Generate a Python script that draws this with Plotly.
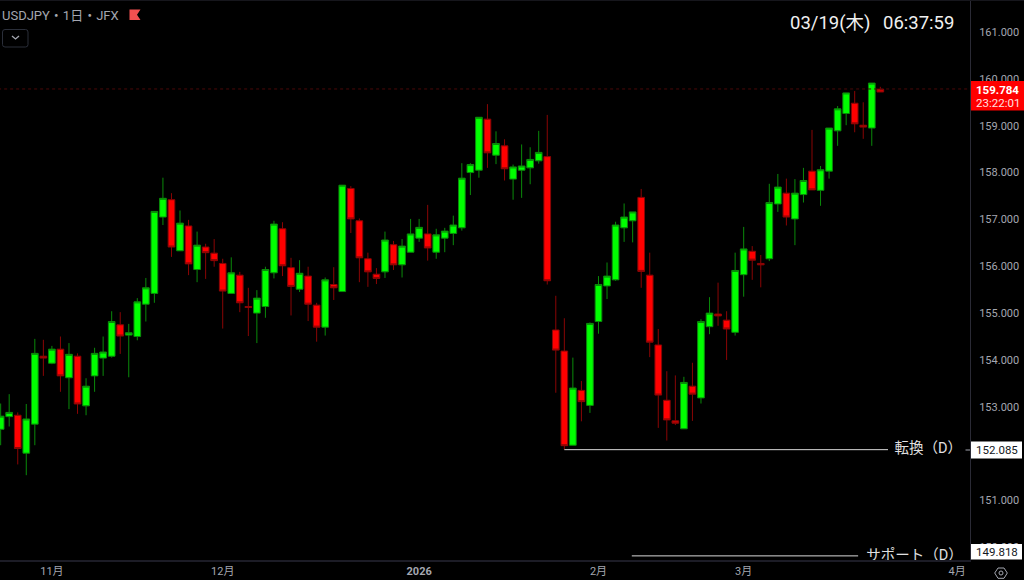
import plotly.graph_objects as go

opens = [
    152.52,152.79,152.82,152.01,152.63,154.08,153.93,154.23,153.62,154.08,
    153.02,153.66,154.04,154.08,154.75,154.53,154.50,155.19,155.42,157.05,
    157.42,156.33,156.86,155.93,156.41,156.28,156.06,155.42,155.81,155.14,
    155.00,155.14,155.86,156.80,155.97,155.51,155.79,155.17,154.70,155.61,
    155.46,157.66,156.97,156.16,155.83,155.88,156.46,156.03,156.30,156.60,
    156.69,156.30,156.60,156.70,156.82,158.00,158.05,159.14,158.37,158.57,
    157.86,158.05,158.10,158.25,158.34,154.64,154.19,152.18,153.35,153.03,
    154.82,155.58,155.71,156.82,156.97,157.47,155.81,154.32,153.14,152.70,
    152.53,153.44,153.19,154.71,154.98,154.85,154.59,155.82,156.32,156.06,
    156.16,157.33,157.56,157.01,157.53,158.03,157.62,158.03,158.89,159.26,
    159.48,159.01,158.95,159.78,
]
highs = [
    153.07,153.27,152.88,153.06,154.45,154.43,154.30,154.50,154.36,154.14,
    153.61,154.26,154.50,155.04,155.02,154.77,155.32,155.75,157.17,157.89,
    157.56,157.19,156.99,156.74,156.48,156.58,156.16,156.19,155.88,155.54,
    155.49,155.99,156.97,156.94,156.18,156.13,155.99,155.22,155.76,155.98,
    157.73,157.71,157.02,156.29,155.96,156.74,156.54,156.58,157.01,157.01,
    157.31,156.80,156.82,157.08,158.20,158.20,159.18,159.46,158.88,158.71,
    158.17,158.60,158.54,158.89,159.23,155.37,154.89,154.05,153.55,154.80,
    155.79,156.08,156.95,157.34,157.16,157.65,156.29,154.66,153.76,153.67,
    153.64,153.94,154.87,155.34,155.65,155.04,156.29,156.84,156.43,156.24,
    157.76,157.97,157.87,157.86,158.10,158.91,158.14,158.95,159.42,159.70,
    159.74,159.50,159.91,159.83,
]
lows = [
    152.18,152.58,151.77,151.54,152.18,153.66,153.91,153.32,152.95,152.85,
    152.82,153.32,153.66,154.05,154.13,153.63,154.42,154.82,155.22,156.88,
    156.20,156.33,155.81,155.66,155.73,155.99,154.67,155.42,155.02,154.51,
    154.36,154.90,155.74,155.79,154.95,155.45,154.83,154.39,154.52,155.28,
    155.46,156.71,155.66,155.56,155.62,155.75,155.92,155.76,156.30,156.52,
    156.12,156.16,156.30,156.45,156.76,157.52,157.89,158.10,158.18,157.83,
    157.42,157.46,157.75,158.19,155.61,153.30,152.09,152.18,152.69,152.87,
    154.56,155.30,155.69,156.52,156.51,155.54,154.06,152.55,152.28,152.61,
    152.53,152.70,153.07,154.55,154.73,154.00,154.52,155.35,155.71,155.55,
    156.11,157.16,156.87,156.45,157.36,157.63,157.29,157.87,158.57,159.01,
    158.86,158.72,158.57,159.72,
]
closes = [
    152.80,152.88,152.11,152.74,154.14,154.04,154.23,153.66,154.12,153.06,
    153.44,154.14,154.17,154.82,154.51,154.58,155.24,155.54,157.17,157.45,
    156.41,156.92,156.05,156.45,156.29,156.12,155.47,155.86,155.22,155.12,
    155.32,155.93,156.90,156.01,155.57,155.85,155.19,154.70,155.71,155.54,
    157.73,157.01,156.18,155.88,155.74,156.56,156.03,156.43,156.69,156.83,
    156.39,156.67,156.75,156.88,157.88,158.17,159.18,158.42,158.62,158.08,
    158.12,158.14,158.28,158.43,155.69,154.21,152.17,153.40,153.11,154.78,
    155.61,155.79,156.88,157.05,157.16,155.89,154.38,153.25,152.72,152.65,
    153.52,153.27,154.82,155.00,154.94,154.66,155.91,156.37,156.13,156.03,
    157.36,157.69,157.05,157.56,157.83,157.63,158.06,158.95,159.36,159.70,
    159.04,158.97,159.91,159.72,
]
bar_index = list(range(len(opens)))

month_ticks = [6, 26, 49, 70, 87, 112]
month_labels = ["11月", "12月", "<b>2026</b>", "2月", "3月", "4月"]
price_ticks = [150, 151, 153, 154, 155, 156, 157, 158, 159, 160, 161]

last_price = 159.784
reversal_price = 152.085
support_price = 149.818
reversal_span = [66, 103.9]
support_span = [73.9, 100.4]
level_labels = ["転換（D）", "サポート（D）"]
level_label_x = [108.6, 107.0]

PLOT_W, PLOT_H = 970, 560
GRAY = "#a4a7b0"
FONT = "Roboto, 'Noto Sans CJK JP', sans-serif"


def px_shape(kind, x0, y0, x1, y1, fill, line="rgba(0,0,0,0)"):
    return dict(type=kind, xref="paper", yref="paper", x0=x0 / PLOT_W, x1=x1 / PLOT_W,
                y0=1 - y0 / PLOT_H, y1=1 - y1 / PLOT_H, fillcolor=fill, line=dict(color=line, width=1))


def px_path(path, fill="rgba(0,0,0,0)", line="rgba(0,0,0,0)", width=1):
    # pixel path measured from the top left of the page, y pointing up
    return dict(type="path", xref="paper", yref="paper", xsizemode="pixel", ysizemode="pixel",
                xanchor=0, yanchor=1, path=path, fillcolor=fill, line=dict(color=line, width=width))


def px_text(x, y, text, size, color=GRAY, anchor="left"):
    return dict(xref="paper", yref="paper", x=x / PLOT_W, y=1 - y / PLOT_H, text=text, showarrow=False,
                xanchor=anchor, yanchor="middle", font=dict(family=FONT, size=size, color=color),
                borderpad=0, borderwidth=0)


fig = go.Figure()

fig.add_trace(go.Scatter(x=[-1, 114], y=[last_price, last_price], mode="lines",
                         line=dict(color="#4a0808", width=1, dash="dot"), hoverinfo="skip"))
fig.add_trace(go.Candlestick(
    x=bar_index, open=opens, high=highs, low=lows, close=closes,
    increasing=dict(line=dict(color="#0a8a0a", width=1), fillcolor="#00ff00"),
    decreasing=dict(line=dict(color="#8a0505", width=1), fillcolor="#ff0000"),
    whiskerwidth=0,
))
fig.add_trace(go.Scatter(x=reversal_span, y=[reversal_price, reversal_price], mode="lines",
                         line=dict(color="#d8d8d8", width=1), hoverinfo="skip"))
fig.add_trace(go.Scatter(x=support_span, y=[support_price, support_price], mode="lines",
                         line=dict(color="#d8d8d8", width=1), hoverinfo="skip"))
fig.add_trace(go.Scatter(x=level_label_x, y=[reversal_price, support_price], mode="text",
                         text=level_labels, textposition="middle center", cliponaxis=True,
                         textfont=dict(family=FONT, size=14.5, color="#e0e0e0"), hoverinfo="skip"))

shapes = [
    px_shape("rect", 0, 0, 1024, 1, "#16161c"),
    px_shape("rect", 971, 81, 1024, 110.5, "#ff0000"),
    px_shape("rect", 971, 441.5, 1022, 458.5, "#ffffff"),
    px_shape("rect", 971, 544, 1022, 559.5, "#ffffff"),
    px_shape("rect", 965.5, 449.5, 970, 450.5, GRAY),
    px_path("M129.5,-9.5 L140.5,-9.5 L137,-14.7 L140.5,-20 L129.5,-20 Z", fill="#f25050"),
    px_path("M5,-29.5 L25.5,-29.5 Q28,-29.5 28,-32 L28,-44.5 Q28,-47 25.5,-47 L5,-47 Q2.5,-47 2.5,-44.5 "
            "L2.5,-32 Q2.5,-29.5 5,-29.5 Z", line="#2a2e39"),
    px_path("M12,-36 L15.5,-39 L19,-36", line=GRAY, width=1.3),
    px_path("M994.7,-573 L998,-568 L1004,-568 L1007.3,-573 L1004,-578.3 L998,-578.3 Z", line=GRAY),
    px_shape("circle", 999, 571, 1003, 575, "rgba(0,0,0,0)", line=GRAY),
]

annotations = [
    px_text(2, 15, "USDJPY・1日・JFX", 13),
    px_text(790, 23, "03/19(木)", 18.5, color="#f0f0f0"),
    px_text(883, 23, "06:37:59", 18.5, color="#f0f0f0"),
    px_text(998, 89.5, "<b>159.784</b>", 11.5, color="#ffffff", anchor="center"),
    px_text(998, 102.5, "23:22:01", 11.5, color="#ffe0e0", anchor="center"),
    px_text(997, 450, "152.085", 11.5, color="#131722", anchor="center"),
    px_text(997, 552, "149.818", 11.5, color="#131722", anchor="center"),
]

fig.update_layout(
    width=1024, height=580,
    margin=dict(l=0, r=54, t=0, b=20, pad=0),
    paper_bgcolor="#000000", plot_bgcolor="#000000",
    showlegend=False, boxgap=0.22, boxgroupgap=0, dragmode=False,
    font=dict(family=FONT, color=GRAY),
    shapes=shapes, annotations=annotations,
    xaxis=dict(range=[-0.077, 113.5], rangeslider=dict(visible=False), showgrid=False, zeroline=False,
               tickmode="array", tickvals=month_ticks, ticktext=month_labels, ticks="",
               tickfont=dict(size=11, color=GRAY, family=FONT), showline=True, linecolor="#1c1c26", linewidth=2),
    yaxis=dict(range=[149.73, 161.683], side="right", showgrid=False, zeroline=False,
               tickmode="array", tickvals=price_ticks, tickformat=".3f", ticks="", ticklabelstandoff=6,
               tickfont=dict(size=11, color=GRAY, family=FONT), showline=True, linecolor="#2a2a35", linewidth=1),
)

fig.write_html("out.html", config=dict(displayModeBar=False),
               post_script="document.body.style.margin='0';document.body.style.background='#000';")
